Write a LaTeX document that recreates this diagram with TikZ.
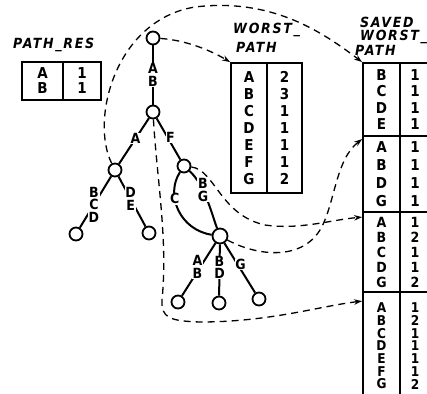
\documentclass[tikz,border=0pt]{standalone}
\usepackage{fontspec}
\newfontfamily\hand{DejaVu Sans Condensed}
\newfontfamily\handwide{DejaVu Sans Condensed}[LetterSpace=12]
\usetikzlibrary{arrows.meta}
\tikzset{
  vtx/.style={circle, draw, line width=1.8pt, fill=white, minimum size=13pt, inner sep=0pt},
  edge/.style={line width=2pt},
  lab/.style={fill=white, inner sep=.5pt, align=center, font=\fontsize{14}{12.5}\selectfont\hand\bfseries},
  cell/.style 2 args={draw, line width=1.8pt, align=center, inner sep=0pt, font=\fontsize{#1}{#2}\selectfont\hand\bfseries},
  head/.style={anchor=west, inner sep=0pt, font=\fontsize{14}{14}\selectfont\handwide\bfseries\itshape},
  link/.style={line width=1.3pt, dash pattern=on 7pt off 5pt, -{Stealth[length=8pt,width=5.5pt]}},
}
\begin{document}
\begin{tikzpicture}[x=1pt,y=-1pt]
\useasboundingbox (0,0) rectangle (427,393);
\clip (0,0) rectangle (427,393);

% PATH_RES
\node[head] (prh) at (13,45) {PATH\_RES};
\node[cell={15}{15}, minimum width=41pt, minimum height=38pt] (prA) at (42.5,81) {A\\B};
\node[cell={15}{15}, minimum width=38pt, minimum height=38pt] (prN) at (82,81) {1\\1};

% WORST_PATH
\node[head] (wph1) at (233,30) {WORST\_};
\node[head] (wph2) at (236,47) {PATH};
\node[cell={15}{17}, minimum width=36pt, minimum height=130pt] (wpA) at (249,128) {A\\B\\C\\D\\E\\F\\G};
\node[cell={15}{17}, minimum width=35pt, minimum height=130pt] (wpN) at (284.5,128) {2\\3\\1\\1\\1\\1\\2};

% SAVED WORST_PATH
\node[head] (svh1) at (360,22) {SAVED};
\node[head] (svh2) at (360,37) {WORST\_};
\node[head] (svh3) at (355,50) {PATH};
\node[cell={15}{16.3}, minimum width=37pt, minimum height=73pt] (s1) at (381.5,99.5) {B\\C\\D\\E};
\node[cell={15}{16.3}, minimum width=30pt, minimum height=73pt] (s1n) at (415,99.5) {1\\1\\1\\1};
\node[cell={15}{18}, minimum width=37pt, minimum height=76pt] (s2) at (381.5,174) {A\\B\\D\\G};
\node[cell={15}{18}, minimum width=30pt, minimum height=76pt] (s2n) at (415,174) {1\\1\\1\\1};
\node[cell={14}{15}, minimum width=37pt, minimum height=80pt] (s3) at (381.5,252) {A\\B\\C\\D\\G};
\node[cell={14}{15}, minimum width=30pt, minimum height=80pt] (s3n) at (415,252) {1\\2\\1\\1\\2};
\node[cell={13.5}{12.7}, minimum width=37pt, minimum height=108pt] (s4) at (381.5,346) {A\\B\\C\\D\\E\\F\\G};
\node[cell={13.5}{12.7}, minimum width=30pt, minimum height=108pt] (s4n) at (415,346) {1\\2\\1\\1\\1\\1\\2};

% search tree
\node[vtx] (r) at (153,38) {};
\node[vtx] (n1) at (153,112) {};
\node[vtx] (n2) at (115,170) {};
\node[vtx] (n3) at (184,166) {};
\node[vtx, minimum size=15pt] (n4) at (220,236) {};
\node[vtx] (l1) at (76,234) {};
\node[vtx] (l2) at (149,233) {};
\node[vtx] (l3) at (178,302) {};
\node[vtx] (l4) at (219,303) {};
\node[vtx] (l5) at (259,299) {};

\draw[edge] (r) -- node[lab]{A\\B} (n1);
\draw[edge] (n1) -- node[lab,pos=.45]{A} (n2);
\draw[edge] (n1) -- node[lab,pos=.45,xshift=3pt]{F} (n3);
\draw[edge] (n2) -- node[lab,pos=.55]{B\\C\\D} (l1);
\draw[edge] (n2) -- node[lab,pos=.45]{D\\E} (l2);
\draw[edge] (n3) .. controls (165,195) and (180,230) .. node[lab,pos=.35]{C} (n4);
\draw[edge] (n3) .. controls (205,185) and (212,215) .. node[lab,pos=.35]{B\\G} (n4);
\draw[edge] (n4) -- node[lab,pos=.45,xshift=-3pt]{A\\B} (l3);
\draw[edge] (n4) -- node[lab,pos=.45]{B\\D} (l4);
\draw[edge] (n4) -- node[lab,pos=.43,xshift=3pt]{G} (l5);

% saving paths
\draw[link] (r) .. controls (185,40) and (210,50) .. (wpA.north west);
\draw[link] (n2) .. controls (90,120) and (115,20) .. (195,7) .. controls (270,-2) and (320,30) .. (s1.north west);
\draw[link] (n3) .. controls (215,170) and (220,215) .. (265,225) .. controls (300,230) and (330,220) .. ([yshift=-6pt]s3.north west);
\draw[link] (n4) .. controls (255,255) and (300,262) .. (320,230) .. controls (335,205) and (335,160) .. ([yshift=-4pt]s2.north west);
\draw[link] (n1) .. controls (157,180) and (168,240) .. (162,300) .. controls (161,318) and (170,321) .. (200,322) .. controls (270,322) and (320,306) .. ([yshift=-10pt]s4.north west);
\end{tikzpicture}
\end{document}
